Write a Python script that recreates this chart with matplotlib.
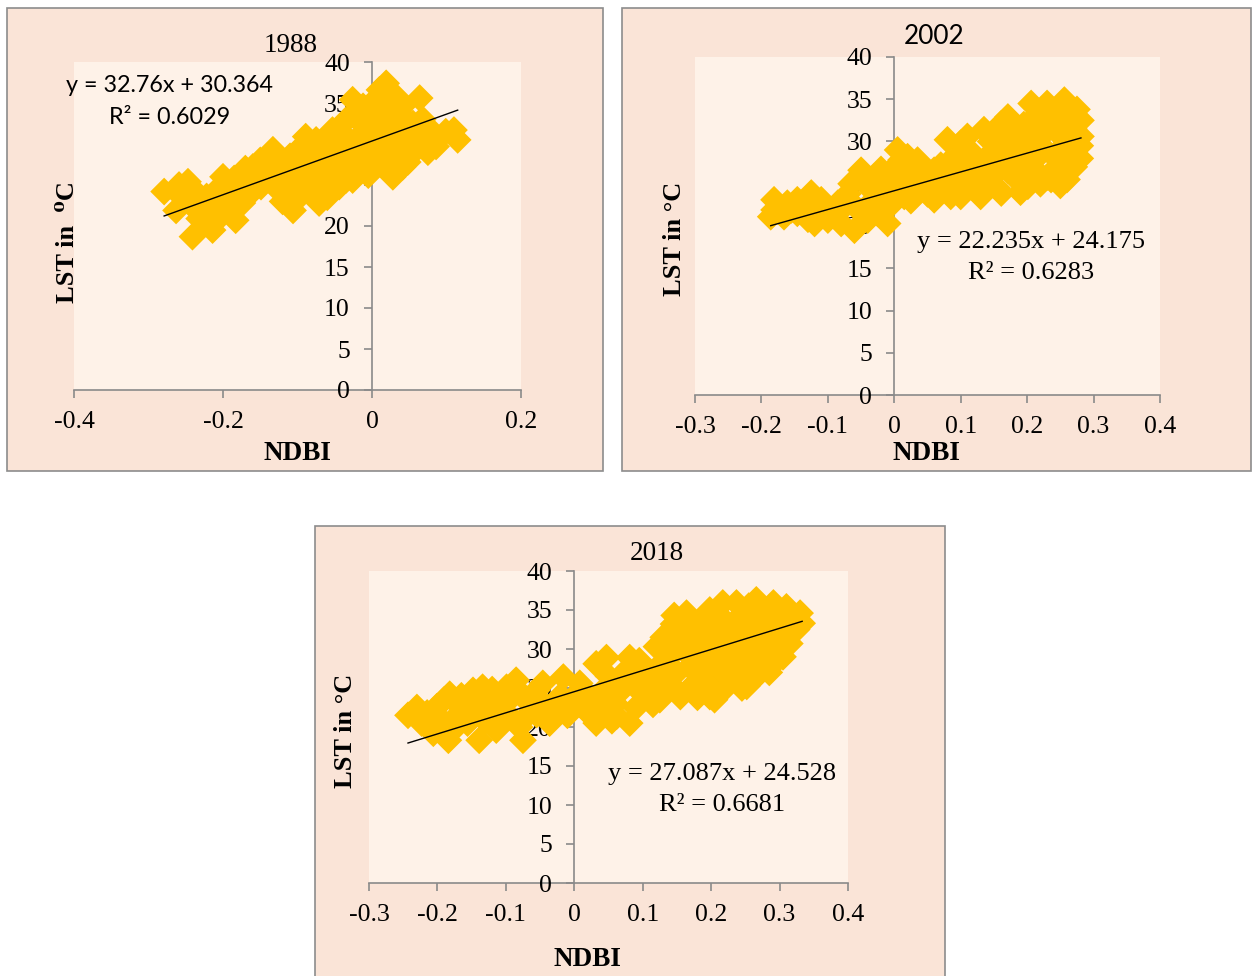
import matplotlib.pyplot as plt
from matplotlib.patches import Rectangle
import numpy as np

# NDBI vs LST samples for each year (NDBI, LST in degC)
pts_1988 = np.array([
    [-0.279, 24.2], [-0.259, 25.0], [-0.247, 25.4], [-0.263, 21.9], [-0.241, 18.7],
    [-0.214, 19.5], [-0.232, 20.9], [-0.245, 22.8], [-0.222, 23.6], [-0.200, 26.0],
    [-0.208, 24.4], [-0.191, 21.9], [-0.183, 20.7], [-0.174, 22.8], [-0.169, 25.6],
    [-0.160, 27.2], [-0.142, 26.8], [-0.149, 24.8], [-0.133, 29.3], [-0.124, 26.4],
    [-0.115, 24.4], [-0.106, 21.9], [-0.120, 23.0], [-0.102, 29.0], [-0.089, 30.9],
    [-0.082, 27.6], [-0.093, 25.6], [-0.071, 22.8], [-0.078, 24.4], [-0.062, 29.7],
    [-0.053, 26.8], [-0.044, 24.8], [-0.035, 25.6], [-0.053, 31.7], [-0.035, 32.9],
    [-0.026, 35.4], [-0.012, 34.6], [-0.017, 30.9], [-0.008, 28.5], [0.000, 26.8],
    [0.010, 36.6], [0.019, 37.4], [0.032, 35.8], [0.041, 34.6], [0.023, 33.4],
    [0.010, 30.9], [0.019, 28.5], [0.032, 26.8], [0.028, 26.0], [0.046, 30.9],
    [0.055, 32.5], [0.064, 35.6], [0.068, 33.0], [0.050, 28.9], [0.059, 29.3],
    [0.081, 31.5], [0.086, 29.7], [0.099, 31.5], [0.115, 30.5], [0.110, 31.7],
    [-0.214, 22.8], [-0.191, 24.0], [-0.179, 24.8], [-0.155, 26.0], [-0.142, 25.6],
    [-0.124, 28.1], [-0.115, 26.8], [-0.106, 25.2], [-0.093, 28.1], [-0.080, 29.3],
    [-0.071, 26.8], [-0.062, 28.1], [-0.044, 28.9], [-0.035, 30.9], [-0.026, 28.9],
    [-0.017, 32.9], [-0.008, 31.7], [0.005, 34.1], [0.010, 32.5], [0.019, 30.9],
    [0.032, 33.7], [0.037, 31.7], [0.037, 28.9], [0.010, 29.3], [0.001, 28.1],
    [0.041, 27.2], [-0.035, 27.2], [-0.017, 27.2], [-0.026, 25.6],
    [-0.255, 23.5], [-0.235, 24.0], [-0.225, 22.0], [-0.205, 21.0], [-0.195, 23.0],
    [-0.185, 25.8], [-0.170, 27.0], [-0.165, 23.8], [-0.150, 28.0], [-0.135, 27.5],
    [-0.130, 24.8], [-0.110, 28.5], [-0.100, 27.0], [-0.098, 23.5], [-0.085, 25.8],
    [-0.075, 30.5], [-0.065, 25.5], [-0.060, 23.5], [-0.048, 30.0], [-0.045, 27.0],
    [-0.025, 33.5], [-0.020, 30.0], [-0.010, 33.0], [0.000, 35.0], [0.000, 30.5],
    [0.005, 27.5], [0.015, 35.5], [0.025, 29.8], [0.030, 31.8], [0.045, 33.0],
    [0.048, 27.8], [0.055, 30.5], [0.070, 31.5], [0.075, 29.0], [0.020, 27.0],
    [-0.005, 26.2],
])

pts_2002 = np.array([
    [-0.186, 21.1], [-0.181, 23.1], [-0.161, 22.7], [-0.146, 23.1], [-0.166, 21.1],
    [-0.146, 21.5], [-0.125, 23.9], [-0.110, 23.1], [-0.120, 20.3], [-0.100, 20.7],
    [-0.085, 22.7], [-0.080, 20.3], [-0.065, 25.0], [-0.050, 26.6], [-0.060, 19.5],
    [-0.040, 20.7], [-0.035, 24.3], [-0.020, 26.7], [-0.015, 24.3], [-0.010, 20.3],
    [-0.015, 22.3], [0.005, 29.0], [0.020, 28.2], [0.035, 27.8], [0.010, 25.8],
    [0.015, 23.5], [0.030, 24.7], [0.040, 25.0], [0.060, 26.6], [0.070, 24.3],
    [0.060, 23.1], [0.080, 30.2], [0.100, 29.8], [0.110, 30.6], [0.090, 27.8],
    [0.100, 25.8], [0.100, 23.5], [0.121, 24.3], [0.135, 31.4], [0.140, 28.2],
    [0.161, 23.9], [0.161, 32.1], [0.171, 32.9], [0.171, 28.2], [0.181, 25.8],
    [0.191, 30.6], [0.201, 24.7], [0.206, 34.5], [0.221, 33.7], [0.216, 28.2],
    [0.231, 25.8], [0.226, 31.0], [0.256, 34.9], [0.266, 32.9], [0.281, 32.5],
    [0.271, 29.0], [0.271, 27.0], [0.251, 26.2], [0.241, 28.2], [0.241, 31.4],
    [0.201, 29.0], [0.181, 29.4], [0.151, 27.4], [0.131, 25.8], [0.110, 27.4],
    [0.080, 27.4], [0.035, 25.4], [0.025, 26.6], [0.005, 24.3], [-0.030, 25.8],
    [-0.075, 22.3], [-0.095, 21.9], [-0.135, 22.3], [-0.181, 21.9], [0.196, 27.4],
    [0.216, 26.2], [0.261, 30.6], [0.281, 30.6], [0.140, 25.0], [0.171, 26.6],
    [0.085, 25.0],
    [-0.175, 22.0], [-0.155, 21.9], [-0.140, 22.5], [-0.130, 20.8], [-0.115, 22.0],
    [-0.105, 21.7], [-0.090, 21.2], [-0.070, 23.8], [-0.055, 22.0], [-0.045, 25.3],
    [-0.030, 23.2], [-0.025, 21.5], [-0.005, 26.5], [-0.005, 22.5], [0.010, 27.8],
    [0.020, 25.2], [0.025, 23.0], [0.045, 26.5], [0.050, 23.8], [0.070, 27.2],
    [0.075, 25.5], [0.085, 23.5], [0.095, 26.6], [0.115, 28.8], [0.115, 25.5],
    [0.125, 27.0], [0.130, 23.5], [0.145, 30.0], [0.150, 26.0], [0.155, 24.5],
    [0.160, 29.5], [0.165, 31.0], [0.175, 30.8], [0.185, 27.2], [0.190, 24.0],
    [0.195, 32.0], [0.205, 30.5], [0.210, 26.8], [0.210, 32.8], [0.220, 25.0],
    [0.225, 29.2], [0.230, 34.5], [0.235, 32.5], [0.245, 27.0], [0.245, 33.5],
    [0.255, 29.5], [0.255, 32.0], [0.265, 28.0], [0.270, 31.5], [0.275, 33.8],
    [0.280, 29.5], [0.280, 28.0], [0.260, 25.5], [0.250, 24.8], [0.236, 25.5],
])

pts_2018 = np.array([
    [-0.243, 21.5], [-0.223, 20.5], [-0.206, 19.2], [-0.184, 18.3], [-0.201, 22.6],
    [-0.182, 24.2], [-0.172, 21.4], [-0.158, 23.4], [-0.148, 24.7], [-0.134, 25.1],
    [-0.139, 18.3], [-0.124, 22.6], [-0.114, 19.6], [-0.099, 25.1], [-0.085, 26.0],
    [-0.094, 21.4], [-0.075, 18.3], [-0.070, 23.4], [-0.055, 24.7], [-0.036, 20.5],
    [-0.016, 26.4], [-0.026, 22.0], [-0.006, 23.4], [0.008, 25.6], [0.018, 22.0],
    [0.032, 20.5], [0.032, 28.1], [0.047, 28.9], [0.042, 24.7], [0.062, 21.4],
    [0.081, 20.5], [0.072, 26.9], [0.081, 28.9], [0.100, 24.2], [0.115, 22.9],
    [0.120, 30.3], [0.130, 31.5], [0.145, 33.2], [0.135, 28.6], [0.145, 25.1],
    [0.155, 23.9], [0.164, 34.6], [0.179, 32.0], [0.169, 27.7], [0.188, 25.6],
    [0.198, 23.9], [0.198, 35.0], [0.217, 35.9], [0.237, 35.9], [0.266, 36.3],
    [0.291, 35.9], [0.310, 35.4], [0.330, 34.6], [0.333, 33.3], [0.315, 30.7],
    [0.291, 28.1], [0.271, 26.9], [0.252, 25.2], [0.228, 26.0], [0.213, 27.3],
    [0.217, 31.1], [0.242, 32.4], [0.266, 33.3], [0.291, 32.4], [0.315, 33.7],
    [0.198, 32.0], [0.183, 29.4], [0.247, 29.9], [0.276, 30.3], [0.237, 28.6],
    [0.261, 28.1], [0.198, 29.0], [0.217, 29.0], [0.159, 29.9], [0.100, 27.3],
    [0.062, 24.7], [0.023, 23.9], [-0.046, 25.6], [-0.109, 23.4], [-0.167, 22.6],
    [-0.201, 20.0], [-0.156, 20.5], [-0.055, 21.6], [0.125, 26.4], [0.146, 34.3],
    [0.159, 32.0],
    [-0.230, 22.5], [-0.215, 21.8], [-0.195, 21.0], [-0.190, 23.5], [-0.175, 19.8],
    [-0.165, 24.0], [-0.150, 21.8], [-0.140, 23.0], [-0.130, 20.8], [-0.120, 24.8],
    [-0.105, 21.0], [-0.095, 23.5], [-0.080, 20.0], [-0.080, 24.5], [-0.065, 21.8],
    [-0.045, 23.0], [-0.040, 21.0], [-0.020, 24.0], [-0.010, 21.5], [0.000, 22.8],
    [0.015, 24.5], [0.025, 21.5], [0.040, 22.8], [0.050, 26.5], [0.055, 20.8],
    [0.060, 23.0], [0.070, 24.8], [0.085, 25.8], [0.090, 22.5], [0.095, 28.5],
    [0.105, 26.0], [0.110, 24.0], [0.120, 27.5], [0.125, 23.5], [0.130, 25.0],
    [0.140, 30.5], [0.150, 27.0], [0.160, 31.5], [0.170, 33.5], [0.175, 25.5],
    [0.180, 31.0], [0.190, 33.5], [0.190, 27.0], [0.200, 25.0], [0.205, 30.5],
    [0.210, 34.5], [0.215, 24.5], [0.220, 33.0], [0.225, 28.0], [0.230, 30.5],
    [0.235, 26.5], [0.240, 34.0], [0.245, 31.0], [0.250, 27.5], [0.255, 35.5],
    [0.255, 30.0], [0.260, 26.0], [0.265, 31.5], [0.270, 34.5], [0.275, 29.0],
    [0.280, 32.0], [0.285, 34.0], [0.285, 27.0], [0.295, 30.0], [0.300, 33.5],
    [0.305, 29.0], [0.305, 32.0], [0.320, 34.0], [0.325, 32.5], [0.180, 23.8],
    [0.205, 23.5], [0.245, 25.0],
])

# trendline coefficients (slope, intercept, R^2)
fit_1988 = (32.76, 30.364, 0.6029)
fit_2002 = (22.235, 24.175, 0.6283)
fit_2018 = (27.087, 24.528, 0.6681)

W, H = 1252, 976
OUTER = '#FAE4D7'
INNER = '#FEF2E8'
GOLD = '#FFC000'
AXCOL = '#8A8A8A'
SERIF = ['Liberation Serif', 'DejaVu Serif', 'DejaVu Sans']
SANS = ['Lato', 'DejaVu Sans']

plt.rcParams['font.family'] = SERIF
fig = plt.figure(figsize=(W / 100, H / 100), dpi=100)


def fig_xy(px, py):
    return px / W, 1 - py / H


def panel(box, area, xlim, xticks, pts, fit, title, title_pos, title_font,
          title_size, eq_pos, eq_font, eq_size, ylabel, ylabel_pos, xlabel_pos):
    # outer chart area, kept behind the axes
    x0, y0, x1, y1 = box
    fig.patches.append(Rectangle(fig_xy(x0, y1), (x1 - x0) / W, (y1 - y0) / H,
                                 transform=fig.transFigure, facecolor=OUTER,
                                 edgecolor='#8C8C8C', lw=1.2, zorder=-5))
    a0, a1, a2, a3 = area
    ax = fig.add_axes([a0 / W, 1 - a3 / H, (a2 - a0) / W, (a3 - a1) / H])
    ax.set_facecolor(INNER)
    ax.set_xlim(*xlim)
    ax.set_ylim(0, 40)
    ax.set_xticks(xticks)
    ax.set_xticklabels(['0' if t == 0 else f'{t:g}' for t in xticks])
    ax.set_yticks(range(0, 41, 5))
    for s in ('top', 'right'):
        ax.spines[s].set_visible(False)
    ax.spines['left'].set_position(('data', 0))
    for s in ('left', 'bottom'):
        ax.spines[s].set_color(AXCOL)
        ax.spines[s].set_linewidth(1.2)
        ax.spines[s].set_zorder(1)
    ax.tick_params(axis='both', direction='out', length=6, width=1.2,
                   color=AXCOL, labelsize=18.5, labelcolor='black')
    ax.tick_params(axis='y', pad=10)
    ax.tick_params(axis='x', pad=9)

    ax.scatter(pts[:, 0], pts[:, 1], marker='D', s=200, c=GOLD,
               edgecolors='none', zorder=2, clip_on=False)
    slope, icpt, r2 = fit
    xs = np.array([pts[:, 0].min(), pts[:, 0].max()])
    ax.plot(xs, slope * xs + icpt, color='black', lw=1.0, zorder=3)

    fig.text(*fig_xy(*title_pos), title, ha='center', va='center',
             fontsize=title_size, family=title_font)
    fig.text(*fig_xy(eq_pos[0], eq_pos[1]), f'y = {slope}x + {icpt}',
             ha='center', va='center', fontsize=eq_size, family=eq_font)
    fig.text(*fig_xy(eq_pos[0], eq_pos[1] + 31), f'R² = {r2}',
             ha='center', va='center', fontsize=eq_size, family=eq_font)
    fig.text(*fig_xy(*ylabel_pos), ylabel, ha='center', va='center',
             rotation=90, fontsize=19, fontweight='bold', family=SERIF)
    fig.text(*fig_xy(*xlabel_pos), 'NDBI', ha='center', va='center',
             fontsize=19.5, fontweight='bold', family=SERIF)
    return ax


panel((7, 8, 603, 471), (74, 62, 521, 390), (-0.4, 0.2), [-0.4, -0.2, 0, 0.2],
      pts_1988, fit_1988, '1988', (291, 45), SERIF, 19.5,
      (170, 86), SANS, 16.8, 'LST in  ⁰C', (68, 242), (297, 453))

panel((622, 8, 1251, 471), (695, 57, 1160, 395), (-0.3, 0.4),
      [-0.3, -0.2, -0.1, 0, 0.1, 0.2, 0.3, 0.4],
      pts_2002, fit_2002, '2002', (934, 36), SANS, 18.8,
      (1031, 242), SERIF, 19, 'LST in °C', (674, 239), (926, 453))

panel((315, 526, 945, 990), (369, 571, 848, 883), (-0.3, 0.4),
      [-0.3, -0.2, -0.1, 0, 0.1, 0.2, 0.3, 0.4],
      pts_2018, fit_2018, '2018', (657, 553), SERIF, 19.5,
      (722, 774), SERIF, 19, 'LST in °C', (345, 731), (587, 960))

fig.savefig('out.png', dpi=100, facecolor='white')
